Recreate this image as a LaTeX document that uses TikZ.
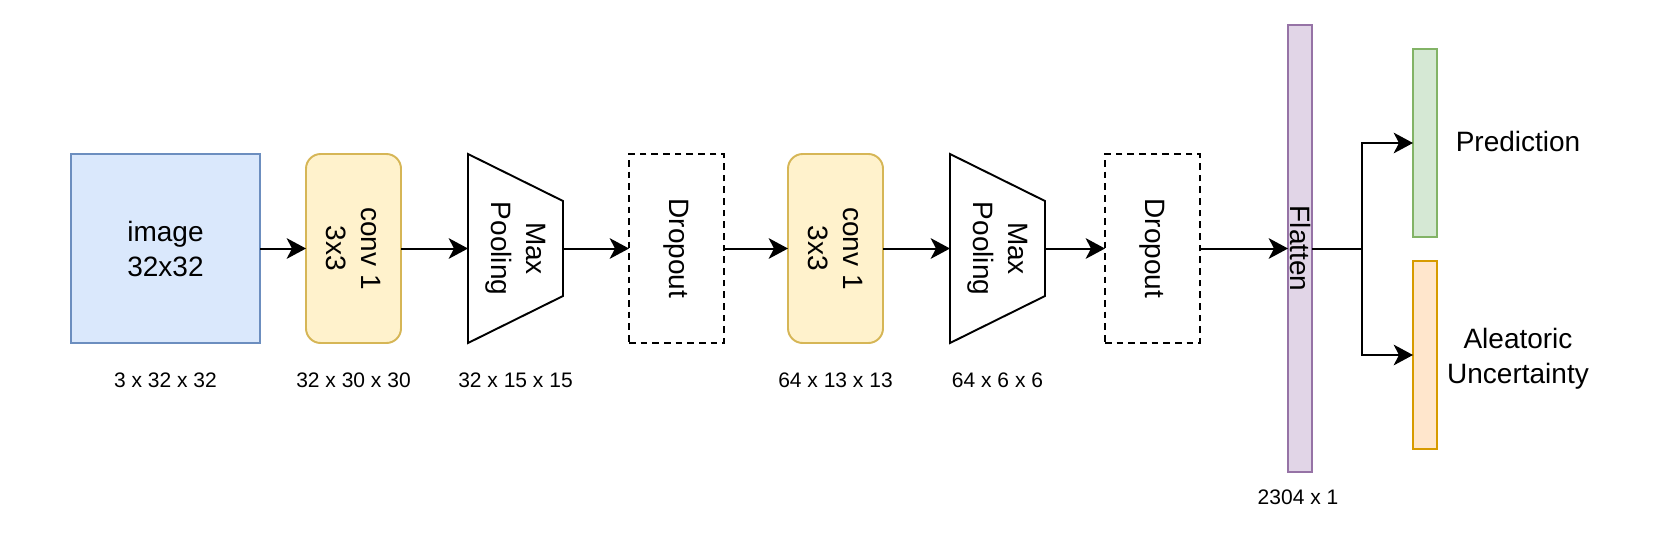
\documentclass[tikz,border=0pt]{standalone}
\usepackage{fontspec}
\setmainfont{Liberation Sans}
\usetikzlibrary{arrows.meta,calc}
\definecolor{blueF}{HTML}{DAE8FC}\definecolor{blueD}{HTML}{6C8EBF}
\definecolor{yelF}{HTML}{FFF2CC}\definecolor{yelD}{HTML}{D6B656}
\definecolor{purF}{HTML}{E1D5E7}\definecolor{purD}{HTML}{9673A6}
\definecolor{grnF}{HTML}{D5E8D4}\definecolor{grnD}{HTML}{82B366}
\definecolor{orgF}{HTML}{FFE6CC}\definecolor{orgD}{HTML}{D79B00}
\begin{document}
\begin{tikzpicture}[x=0.75pt,y=-0.75pt,
  every node/.style={inner sep=0pt,outer sep=0pt},
  shp/.style={line width=1.45pt},
  bigtxt/.style={font=\fontsize{21pt}{26.25pt}\selectfont,align=center},
  smalltxt/.style={font=\fontsize{15.75pt}{19pt}\selectfont,anchor=base},
  imgbox/.style={shp,draw=blueD,fill=blueF,minimum width=141.75pt,minimum height=141.75pt},
  convbox/.style={shp,draw=yelD,fill=yelF,rounded corners=11pt,minimum width=71.25pt,minimum height=141.75pt},
  poolbox/.style={minimum width=71.25pt,minimum height=141.75pt},
  dropbox/.style={shp,draw=black,dash pattern=on 5pt off 3.75pt,minimum width=71.25pt,minimum height=141.75pt},
  flatbox/.style={shp,draw=purD,fill=purF,minimum width=18pt,minimum height=335.25pt},
  outbox/.style={shp,minimum width=18pt,minimum height=141pt},
  arr/.style={line width=1.5pt,-{Stealth[length=14.5pt,width=15.5pt,inset=4pt]}},
  plain/.style={line width=1.5pt}
]
\useasboundingbox (0,0) rectangle (1661,558);

% boxes
\node[imgbox,bigtxt] (img) at (165.5,248.5) {image\\32x32};
\node[convbox] (conv1) at (353.5,248.5) {};
\node[poolbox] (pool1) at (515.5,248.5) {};
\node[dropbox] (drop1) at (676.5,248.5) {};
\node[convbox] (conv2) at (835.5,248.5) {};
\node[poolbox] (pool2) at (997.5,248.5) {};
\node[dropbox] (drop2) at (1152.5,248.5) {};
\node[flatbox] (flat) at (1300,248.5) {};
\node[outbox,draw=grnD,fill=grnF] (pred) at (1425,143) {};
\node[outbox,draw=orgD,fill=orgF] (alea) at (1425,355) {};

% trapezoids
\foreach \p in {pool1,pool2}{
  \draw[shp,line join=miter] (\p.north west) -- ($(\p.north east)+(0,47)$) -- ($(\p.south east)+(0,-47)$) -- (\p.south west) -- cycle;
}

% rotated texts
\node[bigtxt,rotate=-90] (conv1t) at (conv1.center) {conv 1\\3x3};
\node[bigtxt,rotate=-90] (pool1t) at (pool1.center) {Max\\Pooling};
\node[bigtxt,rotate=-90] (drop1t) at (drop1.center) {Dropout};
\node[bigtxt,rotate=-90] (conv2t) at (conv2.center) {conv 1\\3x3};
\node[bigtxt,rotate=-90] (pool2t) at (pool2.center) {Max\\Pooling};
\node[bigtxt,rotate=-90] (drop2t) at (drop2.center) {Dropout};
\node[bigtxt,rotate=-90] (flatt) at (flat.center) {Flatten};

% output labels
\node[bigtxt] (predt) at (1518,141) {Prediction};
\node[bigtxt] (aleat) at (1518,359) {Aleatoric\\Uncertainty};

% size labels
\node[smalltxt] (l1) at (165.5,387) {3 x 32 x 32};
\node[smalltxt] (l2) at (353.5,387) {32 x 30 x 30};
\node[smalltxt] (l3) at (515.5,387) {32 x 15 x 15};
\node[smalltxt] (l4) at (835.5,387) {64 x 13 x 13};
\node[smalltxt] (l5) at (997.5,387) {64 x 6 x 6};
\node[smalltxt] (l6) at (1298,504) {2304 x 1};

% connectors
\draw[arr] (img.east) -- (conv1.west);
\draw[arr] (conv1.east) -- (pool1.west);
\draw[arr] (pool1.east) -- (drop1.west);
\draw[arr] (drop1.east) -- (conv2.west);
\draw[arr] (conv2.east) -- (pool2.west);
\draw[arr] (pool2.east) -- (drop2.west);
\draw[arr] (drop2.east) -- (flat.west);
\coordinate (split) at (1362,248.5);
\draw[plain] (flat.east) -- (split);
\draw[arr] (split) |- (pred.west);
\draw[arr] (split) |- (alea.west);
\end{tikzpicture}
\end{document}
